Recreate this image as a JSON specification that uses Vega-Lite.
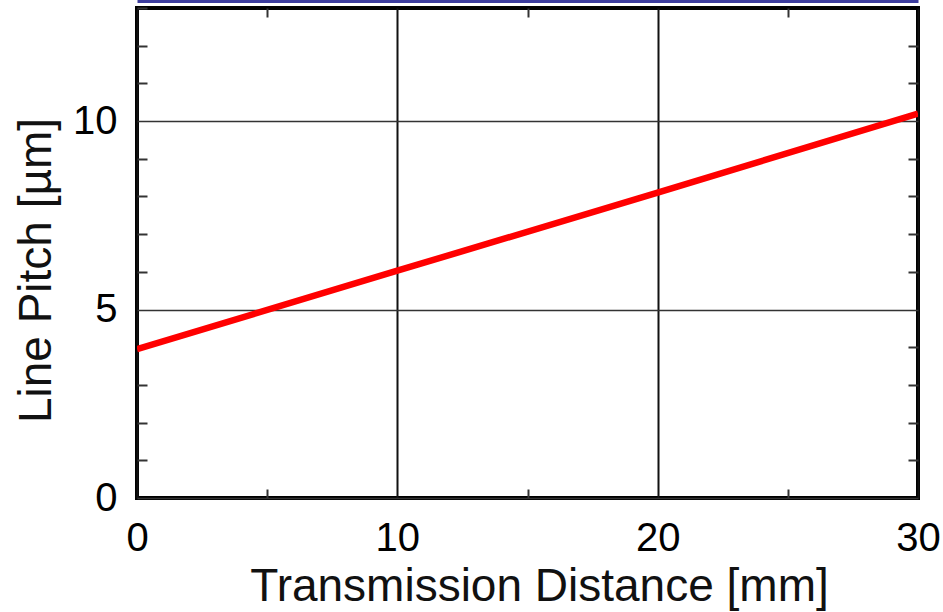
{
  "$schema": "https://vega.github.io/schema/vega-lite/v6.json",
  "width": 781,
  "height": 490,
  "autosize": {"type": "none"},
  "padding": {"left": 137, "top": 8, "right": 25, "bottom": 114},
  "background": "#ffffff",
  "config": {
    "view": {"stroke": "#000000", "strokeWidth": 4},
    "font": "Liberation Sans",
    "axis": {"domain": false, "titleFontWeight": "normal"}
  },
  "data": {
    "values": [
      {"distance": 0, "pitch": 3.95},
      {"distance": 10, "pitch": 6.03},
      {"distance": 20, "pitch": 8.1},
      {"distance": 30, "pitch": 10.2}
    ]
  },
  "layer": [
    {
      "mark": {"type": "line", "color": "#ff0000", "strokeWidth": 6.5, "clip": true},
      "encoding": {
        "x": {
          "field": "distance", "type": "quantitative",
          "scale": {"domain": [0, 30], "nice": false, "zero": false},
          "axis": {
            "orient": "bottom",
            "title": "Transmission Distance [mm]",
            "values": [0, 5, 10, 15, 20, 25, 30],
            "labelExpr": "datum.value % 10 === 0 ? datum.label : ''",
            "labelFontSize": 40, "labelColor": "#000000", "labelPadding": 29,
            "labelFlush": false, "labelOverlap": false,
            "tickSize": -9, "tickWidth": 2, "tickColor": "#333333",
            "tickOpacity": {"condition": {"test": "datum.value % 10 !== 0", "value": 1}, "value": 0},
            "grid": true, "gridColor": "#111111", "gridWidth": 2,
            "gridOpacity": {"condition": {"test": "datum.value % 10 === 0", "value": 1}, "value": 0},
            "titleFontSize": 46, "titleColor": "#111111", "titlePadding": 6, "titleX": 402
          }
        },
        "y": {
          "field": "pitch", "type": "quantitative",
          "scale": {"domain": [0, 13], "nice": false, "zero": false},
          "axis": {
            "orient": "left",
            "title": "Line Pitch [µm]",
            "values": [0, 1, 2, 3, 4, 5, 6, 7, 8, 9, 10, 11, 12, 13],
            "labelExpr": "datum.value % 5 === 0 ? datum.label : ''",
            "labelFontSize": 40, "labelColor": "#000000", "labelPadding": 30,
            "labelFlush": false, "labelOverlap": false,
            "tickSize": -10, "tickWidth": 2, "tickColor": "#333333",
            "tickOpacity": {"condition": {"test": "datum.value % 5 !== 0", "value": 1}, "value": 0},
            "grid": true, "gridColor": "#333333", "gridWidth": 1.5,
            "gridOpacity": {"condition": {"test": "datum.value % 5 === 0", "value": 1}, "value": 0},
            "titleFontSize": 46, "titleColor": "#111111", "titlePadding": 12, "titleY": 262
          }
        }
      }
    },
    {
      "mark": {"type": "line", "opacity": 0},
      "encoding": {
        "x": {
          "field": "distance", "type": "quantitative",
          "scale": {"domain": [0, 30], "nice": false, "zero": false},
          "axis": {
            "orient": "top", "title": null, "labels": false, "grid": false,
            "values": [5, 15, 25],
            "tickSize": -9, "tickWidth": 2, "tickColor": "#333333"
          }
        },
        "y": {
          "field": "pitch", "type": "quantitative",
          "scale": {"domain": [0, 13], "nice": false, "zero": false},
          "axis": {
            "orient": "right", "title": null, "labels": false, "grid": false,
            "values": [1, 2, 3, 4, 6, 7, 8, 9, 11, 12],
            "tickSize": -10, "tickWidth": 2, "tickColor": "#333333"
          }
        }
      }
    },
    {
      "mark": {"type": "line", "opacity": 0},
      "encoding": {
        "x": {
          "field": "distance", "type": "quantitative",
          "scale": {"domain": [0, 30], "nice": false, "zero": false},
          "axis": {
            "orient": "top", "title": null, "labels": false, "grid": false, "ticks": false,
            "domain": true, "domainColor": "#3c3c9e", "domainWidth": 3, "offset": 7
          }
        }
      }
    }
  ],
  "resolve": {"axis": {"x": "independent", "y": "independent"}}
}
